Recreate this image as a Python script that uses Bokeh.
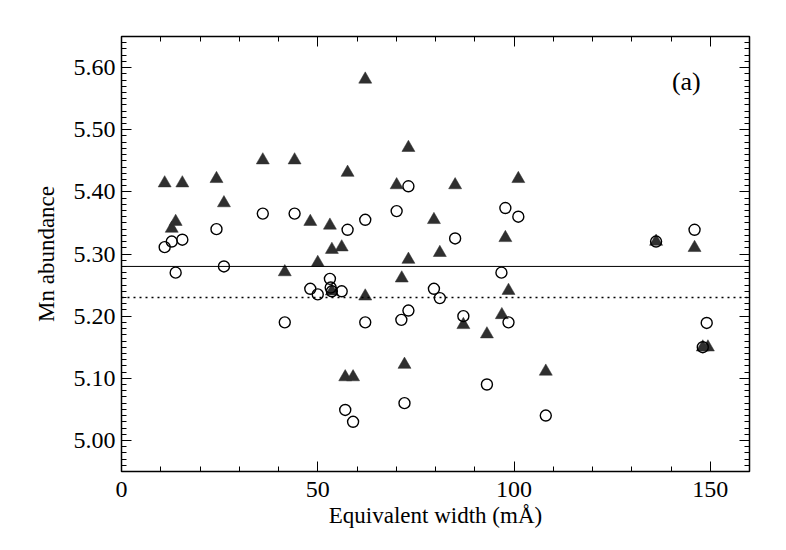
from bokeh.plotting import figure
from bokeh.models import Span, LinearAxis, SingleIntervalTicker, Label, NumeralTickFormatter
from bokeh.embed import file_html
from bokeh.resources import INLINE

# Triangles (filled)
tri_x = [11.0, 12.8, 13.8, 15.5, 24.2, 26.1, 36.0, 41.6, 44.1, 48.1, 50.0, 53.1, 53.6, 53.6,
         56.1, 57.0, 57.6, 59.0, 62.1, 62.1, 70.1, 71.4, 72.1, 73.1, 73.1, 79.6, 81.1, 85.0,
         87.1, 93.1, 96.9, 97.8, 98.6, 101.1, 108.1, 136.2, 146.0, 148.1, 149.4]
tri_y = [5.414, 5.341, 5.352, 5.414, 5.421, 5.382, 5.451, 5.271, 5.451, 5.352, 5.286, 5.346, 5.307, 5.240,
         5.311, 5.102, 5.431, 5.102, 5.581, 5.232, 5.411, 5.261, 5.122, 5.471, 5.291, 5.355, 5.302, 5.411,
         5.186, 5.171, 5.202, 5.326, 5.241, 5.421, 5.111, 5.320, 5.310, 5.150, 5.150]

# Open circles
cir_x = [11.0, 12.8, 13.8, 15.5, 24.2, 26.1, 36.0, 41.6, 44.1, 48.1, 50.0, 53.1, 53.3, 53.6,
         56.1, 57.0, 57.6, 59.0, 62.1, 62.1, 70.1, 71.3, 72.1, 73.1, 73.1, 79.6, 81.1, 85.0,
         87.1, 93.1, 96.8, 97.8, 98.6, 101.1, 108.1, 136.2, 146.0, 148.1, 149.1]
cir_y = [5.311, 5.320, 5.270, 5.323, 5.340, 5.280, 5.365, 5.190, 5.365, 5.244, 5.235, 5.260, 5.246, 5.240,
         5.240, 5.049, 5.339, 5.030, 5.190, 5.355, 5.369, 5.194, 5.060, 5.209, 5.409, 5.244, 5.229, 5.325,
         5.200, 5.090, 5.270, 5.374, 5.190, 5.360, 5.040, 5.320, 5.339, 5.150, 5.189]

mean_solid = 5.28
mean_dotted = 5.23
x_range = (0, 160)
y_range = (4.95, 5.65)

FONT = "Liberation Serif"

p = figure(width=777, height=541, x_range=x_range, y_range=y_range,
           output_backend="svg", toolbar_location=None,
           min_border_left=121, min_border_top=36, min_border_right=28, min_border_bottom=70)
p.grid.visible = False
p.outline_line_color = "black"
p.outline_line_width = 1.5
p.background_fill_color = "white"
p.border_fill_color = "white"

p.scatter(tri_x, tri_y, marker="triangle", size=13, fill_color="#2f2f2f",
          line_color="#2f2f2f", line_width=0.5)
p.scatter(cir_x, cir_y, marker="circle", size=11, fill_color=None,
          line_color="black", line_width=1.4)

p.add_layout(Span(location=mean_solid, dimension="width", line_color="black", line_width=1))
p.add_layout(Span(location=mean_dotted, dimension="width", line_color="black", line_width=1.5,
                  line_dash="2 4"))

p.add_layout(Label(x=143.9, y=5.578, text="(a)", text_font=FONT, text_font_size="26px",
                   text_color="black", text_align="center", text_baseline="middle"))

def style(ax, labels=True):
    ax.major_tick_in = 10
    ax.major_tick_out = 0
    ax.minor_tick_in = 5
    ax.minor_tick_out = 0
    ax.axis_line_color = None
    ax.major_tick_line_color = "black"
    ax.minor_tick_line_color = "black"
    ax.major_label_text_font = FONT
    ax.major_label_text_font_size = "24px"
    ax.major_label_text_color = "black"
    ax.axis_label_text_font = FONT
    ax.axis_label_text_font_size = "23px"
    ax.axis_label_text_font_style = "normal"
    ax.axis_label_text_color = "black"
    if not labels:
        ax.major_label_text_font_size = "0px"
        ax.major_label_text_color = None

p.xaxis.ticker = SingleIntervalTicker(interval=50, num_minor_ticks=5)
p.yaxis.ticker = SingleIntervalTicker(interval=0.1, num_minor_ticks=10)
p.xaxis.axis_label = "Equivalent width (mÅ)"
p.yaxis.axis_label = "Mn abundance"
p.xaxis.axis_label_standoff = 3
p.yaxis.axis_label_standoff = 12
p.xaxis.major_label_standoff = 10
p.yaxis.major_label_standoff = 6
p.yaxis.formatter = NumeralTickFormatter(format="0.00")
style(p.xaxis[0])
style(p.yaxis[0])

top = LinearAxis(ticker=SingleIntervalTicker(interval=50, num_minor_ticks=5))
right = LinearAxis(ticker=SingleIntervalTicker(interval=0.1, num_minor_ticks=10))
style(top, labels=False)
style(right, labels=False)
p.add_layout(top, "above")
p.add_layout(right, "right")

open("out.html", "w").write(file_html(p, INLINE))
